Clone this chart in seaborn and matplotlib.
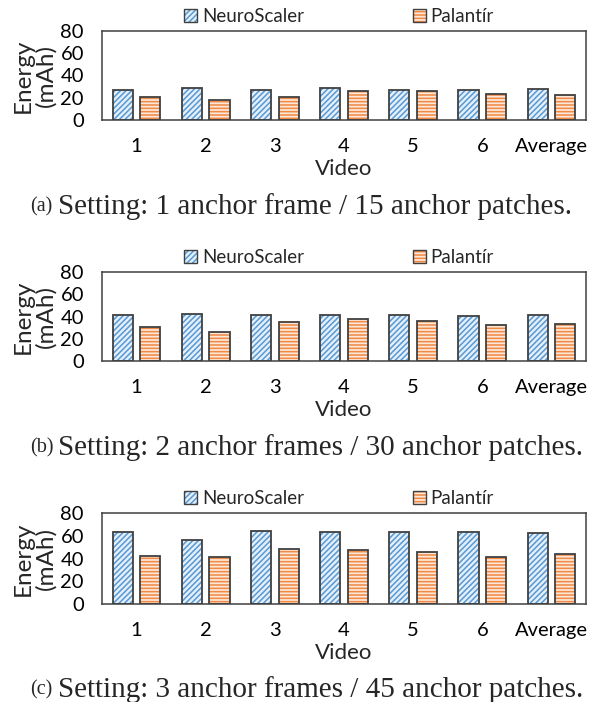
import numpy as np
import pandas as pd
import matplotlib
matplotlib.use("Agg")
import matplotlib.pyplot as plt
import seaborn as sns
from matplotlib.patches import Rectangle, Patch

videos = ["1", "2", "3", "4", "5", "6", "Average"]
methods = ["NeuroScaler", "Palantír"]

neuro_a = [27.2, 28.7, 26.9, 28.7, 26.9, 26.9, 27.5]
palan_a = [20.8, 17.8, 20.5, 26.3, 26.3, 23.8, 22.6]
neuro_b = [41.4, 42.3, 41.4, 41.7, 41.1, 40.5, 41.4]
palan_b = [30.5, 26.3, 34.7, 37.7, 35.9, 32.0, 32.9]
neuro_c = [63.7, 56.3, 64.3, 63.7, 63.1, 63.4, 62.5]
palan_c = [41.8, 41.2, 48.3, 47.4, 45.6, 41.2, 44.1]

labels = ["(a)", "(b)", "(c)"]
captions = [
    "Setting: 1 anchor frame / 15 anchor patches.",
    "Setting: 2 anchor frames / 30 anchor patches.",
    "Setting: 3 anchor frames / 45 anchor patches.",
]
yticks = [0, 20, 40, 60, 80]

sns.set_theme(style="white")
plt.rcParams["font.family"] = ["Lato", "DejaVu Sans"]
plt.rcParams["hatch.linewidth"] = 1.15

W, H = 594, 702
fig = plt.figure(figsize=(W / 100, H / 100), dpi=100)

face = ["#E6F0FA", "#FCE8DA"]
hcol = ["#5B9BD5", "#F08A45"]
hatches = ["//////", "-----"]
edge = "#404040"

# axes boxes in pixels (left, top, right, bottom)
boxes = [(102, 31, 586, 120), (102, 272, 586, 361), (102, 513, 586, 604)]
cap_y = [207, 448, 690]

datasets = [(neuro_a, palan_a), (neuro_b, palan_b), (neuro_c, palan_c)]

for i, ((l, t, r, b), (nv, pv)) in enumerate(zip(boxes, datasets)):
    ax = fig.add_axes([l / W, 1 - b / H, (r - l) / W, (b - t) / H])
    df = pd.DataFrame({
        "Video": videos * 2,
        "Energy": list(nv) + list(pv),
        "Method": [methods[0]] * len(videos) + [methods[1]] * len(videos),
    })
    sns.barplot(data=df, x="Video", y="Energy", hue="Method", order=videos,
                hue_order=methods, palette=face, saturation=1, width=0.8,
                gap=0.27, legend=False, ax=ax, linewidth=0)
    for k, cont in enumerate(ax.containers):
        for p in cont.patches:
            p.set_facecolor(face[k])
            p.set_edgecolor(hcol[k])
            p.set_hatch(hatches[k])
            p.set_linewidth(0)
            ax.add_patch(Rectangle((p.get_x(), p.get_y()), p.get_width(),
                                   p.get_height(), fill=False,
                                   edgecolor=edge, linewidth=1.3, zorder=3))
    ax.set_ylim(0, 80)
    ax.set_xlim(-0.5, len(videos) - 0.5)
    ax.set_yticks(yticks)
    ax.tick_params(axis="both", length=0, labelsize=14.5, colors="black")
    ax.tick_params(axis="x", pad=13)
    ax.tick_params(axis="y", pad=13)
    for s in ax.spines.values():
        s.set_visible(True)
        s.set_color(edge)
        s.set_linewidth(1.1)
    ax.set_xlabel("Video", fontsize=16, labelpad=3)
    ax.set_ylabel("Energy\n(mAh)", fontsize=17.5, linespacing=1.05, labelpad=3)

    handles = []
    for k in range(2):
        h1 = Patch(facecolor=face[k], edgecolor=hcol[k], hatch=hatches[k], linewidth=0)
        h2 = Patch(fill=False, edgecolor=edge, linewidth=1.0)
        handles.append((h1, h2))
    ax.legend(handles, methods, loc="lower center", bbox_to_anchor=(0.49, 0.975),
              ncol=2, frameon=False, fontsize=13.5, handlelength=0.7,
              handleheight=0.7, handletextpad=0.25, columnspacing=5.8,
              borderaxespad=0.05)

    fig.text(30 / W, 1 - cap_y[i] / H, labels[i], ha="left", va="center",
             family=["Liberation Serif"], fontsize=14.5)
    fig.text(58 / W, 1 - cap_y[i] / H, captions[i], ha="left", va="center",
             family=["Liberation Serif"], fontsize=21)

fig.savefig("out.png", dpi=100)
